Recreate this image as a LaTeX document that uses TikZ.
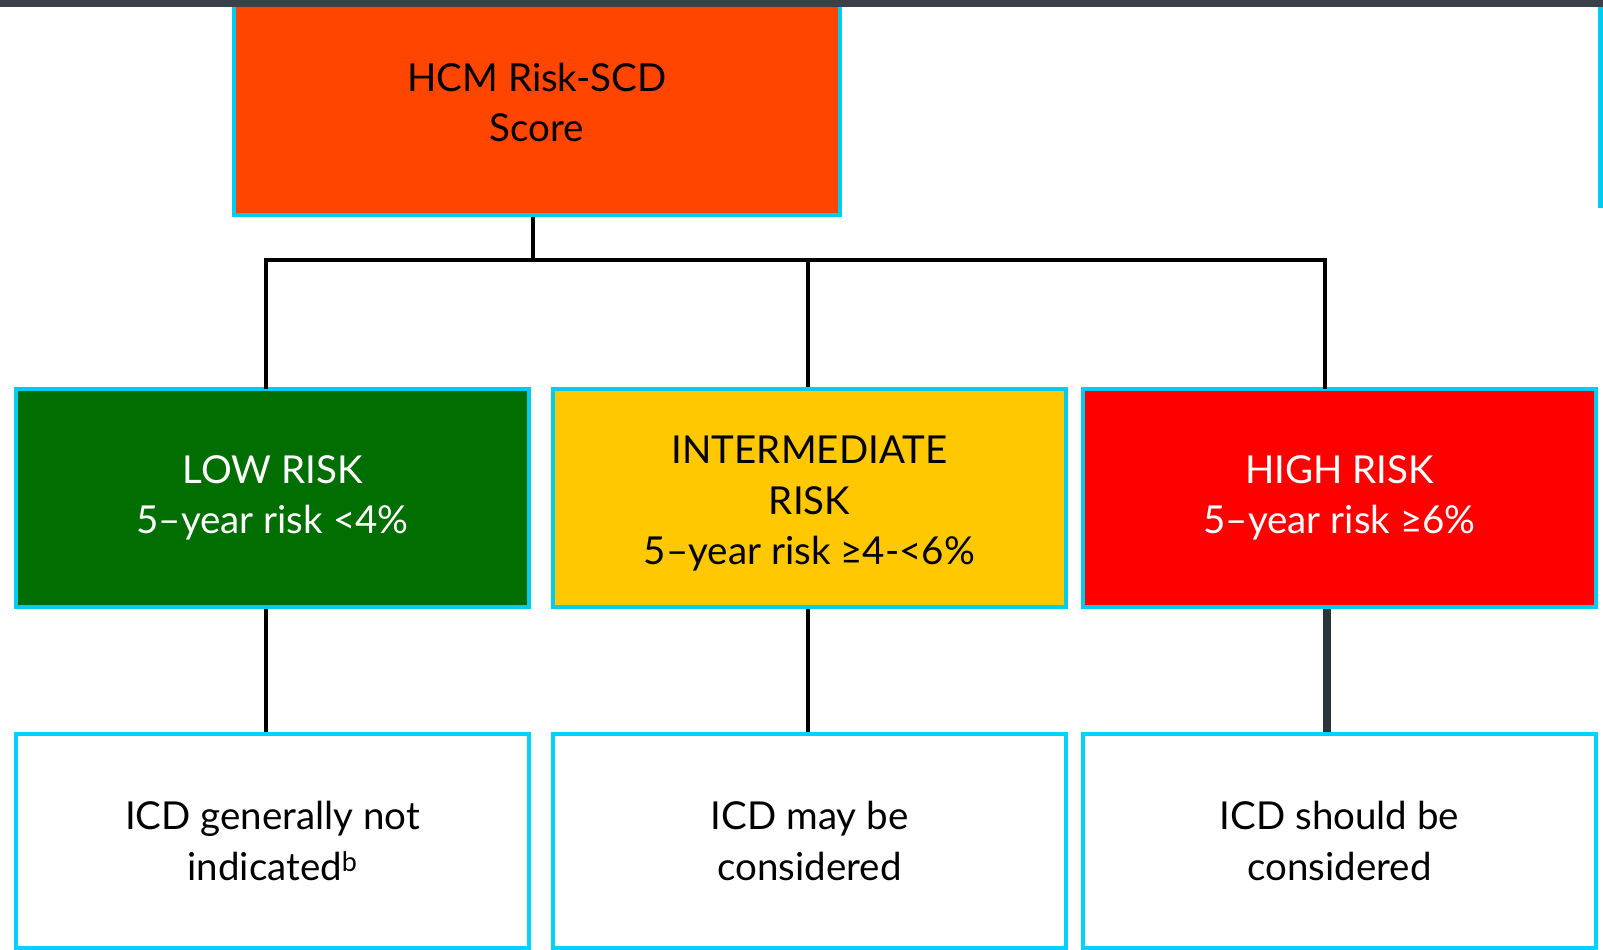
\documentclass[tikz,border=0pt]{standalone}
\usepackage{fontspec}
\setmainfont{Lato}
\begin{document}
\begin{tikzpicture}[x=1pt,y=-1pt,
  box/.style={draw=boxcyan, line width=4pt, minimum width=513pt, inner sep=0pt, align=center,
    font=\fontsize{38.5}{50.5}\selectfont},
  lvl/.style={box, minimum height=218pt},
  icdbox/.style={box, minimum height=214pt, fill=white, draw=outcyan},
  conn/.style={draw=black, line width=4.5pt},
  hiconnstyle/.style={draw=hiconn, line width=8pt}
]
\definecolor{boxcyan}{HTML}{00CCF0}
\definecolor{outcyan}{HTML}{00D2FF}
\definecolor{hcmorange}{HTML}{FF4500}
\definecolor{lowgreen}{HTML}{006E00}
\definecolor{midyellow}{HTML}{FFC800}
\definecolor{hired}{HTML}{FF0000}
\definecolor{barcol}{HTML}{3B414B}
\definecolor{hiconn}{HTML}{28353A}
\useasboundingbox (0,0) rectangle (1603,950);
\clip (0,0) rectangle (1603,950);
% top box
\node[box, fill=hcmorange, minimum width=606pt, minimum height=225pt] (hcm) at (537,102.5) {HCM Risk-SCD\\Score};
% level 2
\node[lvl, fill=lowgreen, text=white] (low) at (272.5,498) {LOW RISK\\5–year risk <4\%};
\node[lvl, fill=midyellow] (mid) at (809.5,498) {\begin{tabular}{@{}c@{}}\rule{0pt}{47.5pt}INTERMEDIATE\\RISK\\5–year risk ≥4-<6\%\end{tabular}};
\node[lvl, fill=hired, text=white] (high) at (1339.5,498) {HIGH RISK\\5–year risk ≥6\%};
% level 3
\node[icdbox] (lowicd) at (272.5,841) {ICD generally not\\indicated\textsuperscript{b}};
\node[icdbox] (midicd) at (809.5,841) {ICD may be\\considered};
\node[icdbox] (highicd) at (1339.5,841) {ICD should be\\considered};
% cut-off box on the right edge
\fill[boxcyan] (1598,7) rectangle (1603,208);
% top bar
\fill[barcol] (0,0) rectangle (1603,7);
% connectors
\coordinate (split) at (533,260);
\draw[conn] ([xshift=-4pt]hcm.south) -- (split);
\draw[conn, line cap=rect] ([xshift=-6.5pt]low.north) |- (split) -| ([xshift=-14.5pt]high.north);
\draw[conn] ([xshift=-1.5pt]mid.north) -- ([xshift=-1.5pt]mid.north |- split);
\draw[conn] ([xshift=-6.5pt]low.south) -- ([xshift=-6.5pt]lowicd.north);
\draw[conn] ([xshift=-1.5pt]mid.south) -- ([xshift=-1.5pt]midicd.north);
\draw[hiconnstyle] ([xshift=-12.5pt]high.south) -- ([xshift=-12.5pt]highicd.north);
\end{tikzpicture}
\end{document}
